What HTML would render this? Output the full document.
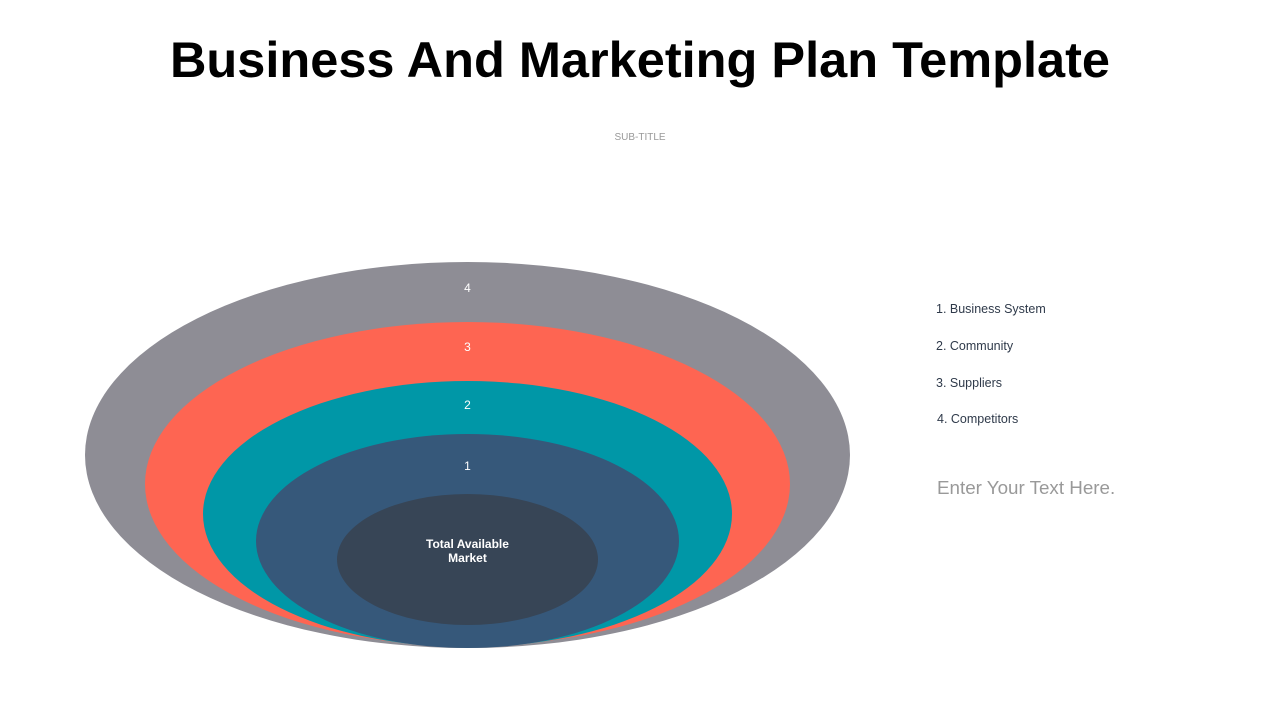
<!DOCTYPE html>
<html><head><meta charset="utf-8"><style>
body{margin:0;width:1280px;height:720px;background:#fff;position:relative;overflow:hidden;font-family:"Liberation Sans",sans-serif}
.t{position:absolute;left:0;width:1280px;text-align:center}
.l{position:absolute;left:936px;font-size:12.5px;color:#2f3a4a}
</style></head><body>
<div class="t" style="top:30px;font-size:50.5px;font-weight:bold;color:#000">Business And Marketing Plan Template</div>
<div class="t" style="top:132px;font-size:10px;color:#999">SUB-TITLE</div>
<svg width="1280" height="720" style="position:absolute;left:0;top:0">
<ellipse cx="467.5" cy="455" rx="382.5" ry="193" fill="#8e8d95"/>
<ellipse cx="467.5" cy="484" rx="322.5" ry="162" fill="#fe6552"/>
<ellipse cx="467.5" cy="514" rx="264.5" ry="133" fill="#0097a7"/>
<ellipse cx="467.5" cy="541" rx="211.5" ry="107" fill="#36587a"/>
<ellipse cx="467.5" cy="559.5" rx="130.5" ry="65.5" fill="#374556"/>
<g fill="#fff" font-family="Liberation Sans" font-size="12" text-anchor="middle">
<text x="467.5" y="292">4</text>
<text x="467.5" y="351">3</text>
<text x="467.5" y="409">2</text>
<text x="467.5" y="470">1</text>
<text x="467.5" y="548" font-weight="bold">Total Available</text>
<text x="467.5" y="562" font-weight="bold">Market</text>
</g></svg>
<div class="l" style="top:302px">1. Business System</div>
<div class="l" style="top:339px">2. Community</div>
<div class="l" style="top:376px">3. Suppliers</div>
<div class="l" style="top:412px;left:937px">4. Competitors</div>
<div class="l" style="top:477px;left:937px;font-size:18.8px;color:#999">Enter Your Text Here.</div>
</body></html>
